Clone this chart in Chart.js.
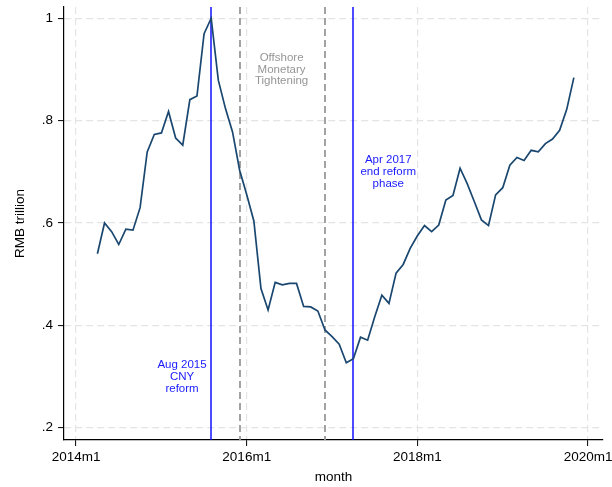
<!DOCTYPE html>
<html>
<head>
<meta charset="utf-8">
<script src="https://cdn.jsdelivr.net/npm/chart.js@4/dist/chart.umd.min.js"></script>
<style>
  html, body { margin: 0; padding: 0; background: #fff; }
  #wrap { width: 612px; height: 487px; }
</style>
</head>
<body>
<div id="wrap"><canvas id="rmb" width="612" height="487"></canvas></div>
<script>
'use strict';

// months counted from 2014m1 = 0; series starts 2014m4
const firstMonth = 3;
const rmbTrillion = [
  0.540, 0.600, 0.583, 0.558, 0.588, 0.586, 0.630, 0.739, 0.773,        // 2014m4 - 2014m12
  0.776, 0.818, 0.766, 0.752, 0.841, 0.848, 0.970, 1.000, 0.879, 0.824, 0.778, 0.703, // 2015
  0.655, 0.604, 0.472, 0.430, 0.484, 0.479, 0.482, 0.482, 0.437, 0.436, 0.428, 0.391, // 2016
  0.378, 0.363, 0.327, 0.335, 0.377, 0.371, 0.417, 0.459, 0.443, 0.502, 0.519, 0.551, // 2017
  0.575, 0.595, 0.583, 0.596, 0.645, 0.654, 0.707, 0.677, 0.642, 0.606, 0.595, 0.655, // 2018
  0.669, 0.713, 0.728, 0.722, 0.742, 0.739, 0.755, 0.764, 0.781, 0.822, 0.884          // 2019m1 - 2019m11
];

const xTickMonths = [0, 24, 48, 72];
const xTickLabels = ['2014m1', '2016m1', '2018m1', '2020m1'];
const yTickValues = [0.2, 0.4, 0.6, 0.8, 1];
const yTickLabels = ['.2', '.4', '.6', '.8', '1'];

// event lines: 2015m8, 2015m12, 2016m12, 2017m4
const eventMonths = [19, 23, 35, 39];
const eventKinds = ['reform', 'tightening', 'tightening', 'reform'];

// notes, anchored at (month, value) of their middle line
const noteLines = [
  ['Aug 2015', 'CNY', 'reform'],
  ['Offshore', 'Monetary', 'Tightening'],
  ['Apr 2017', 'end reform', 'phase']
];
const noteMonth = [14.9, 28.9, 43.9];
const noteValue = [0.300, 0.900, 0.700];
const noteKinds = ['reform', 'tightening', 'reform'];

const points = rmbTrillion.map((v, i) => ({ x: firstMonth + i, y: v }));

const kindColor = { reform: '#0000ff', tightening: '#999999' };
const noteColor = { reform: '#1a1aff', tightening: '#969696' };

const eventsPlugin = {
  id: 'events',
  beforeDatasetsDraw(chart) {
    const ctx = chart.ctx;
    const xs = chart.scales.x;
    const area = chart.chartArea;
    ctx.save();
    eventMonths.forEach((m, i) => {
      const px = Math.round(xs.getPixelForValue(m));
      ctx.beginPath();
      ctx.strokeStyle = kindColor[eventKinds[i]];
      if (eventKinds[i] === 'tightening') {
        ctx.lineWidth = 1.8;
        ctx.setLineDash([7, 4]);
      } else {
        ctx.lineWidth = 1.4;
        ctx.setLineDash([]);
      }
      ctx.moveTo(px, area.top);
      ctx.lineTo(px, area.bottom);
      ctx.stroke();
    });
    ctx.restore();
  },
  afterDatasetsDraw(chart) {
    const ctx = chart.ctx;
    const xs = chart.scales.x;
    const ys = chart.scales.y;
    ctx.save();
    ctx.font = '11.5px "Liberation Sans", Arial, sans-serif';
    ctx.textAlign = 'center';
    ctx.textBaseline = 'middle';
    noteLines.forEach((lines, i) => {
      const cx = xs.getPixelForValue(noteMonth[i]);
      const cy = ys.getPixelForValue(noteValue[i]);
      ctx.fillStyle = noteColor[noteKinds[i]];
      lines.forEach((t, j) => {
        ctx.fillText(t, cx, cy + (j - 1) * 11.8);
      });
    });
    ctx.restore();
  }
};

const font = { family: '"Liberation Sans", Arial, sans-serif', size: 13.5 };

// keep the plot box fixed: no extra room for overhanging tick labels
function noPad(s) {
  s.paddingLeft = 0;
  s.paddingRight = 0;
  s.paddingTop = 0;
  s.paddingBottom = 0;
}

new Chart(document.getElementById('rmb'), {
  type: 'line',
  data: {
    datasets: [{
      data: points,
      borderColor: '#1a476f',
      borderWidth: 1.7,
      pointRadius: 0,
      tension: 0,
      fill: false
    }]
  },
  options: {
    responsive: false,
    animation: false,
    events: [],
    layout: { padding: { top: 7, right: 9, left: 0, bottom: 0 } },
    plugins: { legend: { display: false }, tooltip: { enabled: false } },
    scales: {
      x: {
        type: 'linear',
        min: -1.7,
        max: 74.1,
        afterFit(s) { s.height = 47; noPad(s); },
        afterBuildTicks(s) { s.ticks = xTickMonths.map(v => ({ value: v })); },
        ticks: {
          autoSkip: false,
          maxRotation: 0,
          color: '#000',
          font: font,
          padding: 3,
          callback: (v, i) => xTickLabels[i]
        },
        grid: {
          color: '#e4e4e4',
          lineWidth: 1.2,
          tickColor: '#000',
          tickLength: 6,
          tickWidth: 1,
          tickBorderDash: []
        },
        border: { display: true, color: '#000', width: 1.2, dash: [7, 4] },
        title: { display: true, text: 'month', color: '#000', font: font, padding: { top: 2, bottom: 2 } }
      },
      y: {
        type: 'linear',
        min: 0.176,
        max: 1.022,
        afterFit(s) { s.width = 64; noPad(s); },
        afterBuildTicks(s) { s.ticks = yTickValues.map(v => ({ value: v })); },
        ticks: {
          color: '#000',
          font: font,
          padding: 5,
          callback: (v, i) => yTickLabels[i]
        },
        grid: {
          color: '#e4e4e4',
          lineWidth: 1.2,
          tickColor: '#000',
          tickLength: 6,
          tickWidth: 1,
          tickBorderDash: []
        },
        border: { display: true, color: '#000', width: 1.2, dash: [7, 4] },
        title: { display: true, text: 'RMB trillion', color: '#000', font: font, padding: { top: 12, bottom: 0 } }
      }
    }
  },
  plugins: [eventsPlugin]
});
</script>
</body>
</html>
